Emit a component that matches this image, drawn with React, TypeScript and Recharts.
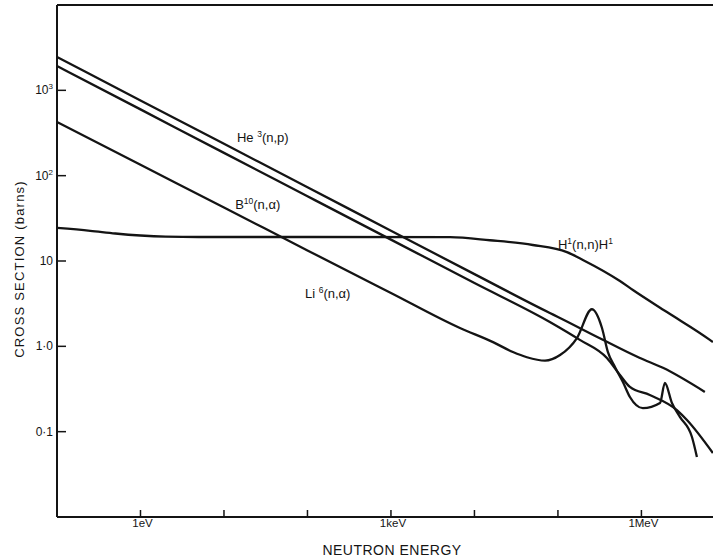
import React from "react";
import { LineChart, Line, XAxis, YAxis, ReferenceLine, ReferenceDot, Label } from "recharts";

const FONT = '"Liberation Sans", Arial, Helvetica, sans-serif';
const INK = "#141414";

// neutron energy in eV, cross section in barns
const he3Energy = [0.1, 1, 10, 100, 1000, 1e4, 8e4, 1e5, 3e5, 9.6e5, 1.81e6, 5.75e6];
const he3Sigma = [2460, 762, 236, 73.3, 22.6, 7.02, 2.46, 2.21, 1.28, 0.73, 0.56, 0.292];

const b10Energy = [0.1, 1, 10, 100, 1000, 1e4, 8e4, 1.83e5, 3.86e5, 5.53e5, 7.28e5, 1.26e6, 2.66e6, 3.51e6, 7.18e6];
const b10Sigma = [1930, 598, 185, 57.4, 17.8, 5.51, 1.93, 1.19, 0.73, 0.461, 0.334, 0.269, 0.179, 0.137, 0.0562];

const li6Energy = [
  0.1, 1, 10, 100, 1000, 6.7e3, 1.67e4, 2.89e4, 4.25e4, 7e4, 1.06e5, 1.69e5, 2.55e5,
  3.37e5, 3.97e5, 4.82e5, 6.0e5, 7.28e5, 1.04e6, 1.67e6, 1.91e6, 2.32e6, 2.89e6, 4.03e6, 4.62e6,
];
const li6Sigma = [
  425, 134, 42.4, 13.3, 4.22, 1.64, 1.12, 0.857, 0.745, 0.68, 0.79, 1.25, 2.72,
  1.64, 0.857, 0.573, 0.382, 0.255, 0.189, 0.217, 0.372, 0.217, 0.149, 0.0865, 0.0505,
];

const h1Energy = [0.1, 0.25, 0.5, 1, 2, 5, 100, 5100, 1.53e4, 5e4, 1.28e5, 1.99e5, 5.53e5, 7.91e5, 2.02e6, 6.6e6, 7.18e6];
const h1Sigma = [24.4, 22.6, 21.0, 19.9, 19.3, 19.1, 19.1, 19.0, 17.5, 15.4, 12.7, 10.3, 5.83, 4.57, 2.52, 1.19, 1.12];

const energyTicks = [1, 10, 100, 1000, 1e4, 1e5, 1e6];
const energyTickLabels = ["1eV", "", "", "1keV", "", "", "1MeV"];

const sigmaTicks = [0.1, 1, 10, 100, 1000];
const sigmaTickBase = ["0·1", "1·0", "10", "10", "10"];
const sigmaTickExp = ["", "", "", "2", "3"];

// where each curve name sits (energy, barns)
const curveLabelEnergy = [14.3, 13.6, 93.3, 1e5];
const curveLabelSigma = [248, 40.6, 3.68, 13.8];

const toRows = (es: number[], ss: number[]) => es.map((e, i) => ({ e, s: ss[i] }));

const he3Data = toRows(he3Energy, he3Sigma);
const b10Data = toRows(b10Energy, b10Sigma);
const li6Data = toRows(li6Energy, li6Sigma);
const h1Data = toRows(h1Energy, h1Sigma);

const XTick = (props: any) => {
  const { x, y, payload } = props;
  const label = energyTickLabels[energyTicks.indexOf(payload.value)];
  return (
    <g>
      <line x1={x} x2={x} y1={y} y2={y - 7} stroke={INK} strokeWidth={1.5} />
      <text x={x + 2} y={y + 10} textAnchor="middle" fontSize={11.5} fontFamily={FONT} fill={INK}>
        {label}
      </text>
    </g>
  );
};

const YTick = (props: any) => {
  const { x, y, payload } = props;
  const i = sigmaTicks.indexOf(payload.value);
  return (
    <g>
      <line x1={x} x2={x + 9} y1={y} y2={y} stroke={INK} strokeWidth={1.5} />
      <text x={x - 4} y={y + 4} textAnchor="end" fontSize={12} fontFamily={FONT} fill={INK}>
        <tspan>{sigmaTickBase[i]}</tspan>
        {sigmaTickExp[i] && (
          <tspan dy={-5} fontSize={8}>
            {sigmaTickExp[i]}
          </tspan>
        )}
      </text>
    </g>
  );
};

// name pieces: [text, raised?]
const curveNames: [string, boolean][][] = [
  [["He ", false], ["3", true], ["(n,p)", false]],
  [["B", false], ["10", true], ["(n,α)", false]],
  [["Li ", false], ["6", true], ["(n,α)", false]],
  [["H", false], ["1", true], ["(n,n)H", false], ["1", true]],
];

const nameLabel = (k: number) => (props: any) => {
  const vb = props.viewBox || {};
  let raised = false;
  return (
    <text x={vb.x} y={vb.y} fontSize={13} fontFamily={FONT} fill={INK}>
      {curveNames[k].map(([t, up], j) => {
        const dy = up && !raised ? -5 : !up && raised ? 5 : 0;
        raised = up;
        return (
          <tspan key={j} dy={dy} fontSize={up ? 8.5 : 13}>
            {t}
          </tspan>
        );
      })}
    </text>
  );
};

export default function App() {
  return (
    <div style={{ position: "absolute", left: 0, top: 0, width: 713, height: 559, background: "#fff" }}>
      <LineChart width={713} height={559} margin={{ top: 5, right: 0, bottom: 0, left: 0 }}>
        <XAxis
          dataKey="e"
          type="number"
          scale="log"
          domain={[0.1, 7.2e6]}
          allowDataOverflow
          ticks={energyTicks}
          interval={0}
          height={42}
          tickSize={0}
          tickMargin={0}
          tickLine={false}
          axisLine={{ stroke: INK, strokeWidth: 2 }}
          tick={<XTick />}
        >
          <Label
            content={(p: any) => (
              <text
                x={p.viewBox.x + 335}
                y={p.viewBox.y + 38}
                textAnchor="middle"
                fontSize={14}
                letterSpacing={0.5}
                fontFamily={FONT}
                fill={INK}
              >
                NEUTRON ENERGY
              </text>
            )}
          />
        </XAxis>
        <YAxis
          type="number"
          scale="log"
          domain={[0.01, 10000]}
          allowDataOverflow
          ticks={sigmaTicks}
          interval={0}
          width={57}
          tickSize={0}
          tickMargin={0}
          tickLine={false}
          axisLine={{ stroke: INK, strokeWidth: 2 }}
          tick={<YTick />}
        >
          <Label
            content={() => (
              <text
                x={19}
                y={269}
                transform="rotate(-90, 19, 269)"
                textAnchor="middle"
                dominantBaseline="central"
                fontSize={13}
                letterSpacing={1.2}
                fontFamily={FONT}
                fill={INK}
              >
                CROSS SECTION (barns)
              </text>
            )}
          />
        </YAxis>
        <ReferenceLine y={10000} stroke={INK} strokeWidth={2} />
        <Line data={he3Data} dataKey="s" type="monotone" stroke={INK} strokeWidth={2.3} dot={false} isAnimationActive={false} />
        <Line data={b10Data} dataKey="s" type="monotone" stroke={INK} strokeWidth={2.3} dot={false} isAnimationActive={false} />
        <Line data={li6Data} dataKey="s" type="monotone" stroke={INK} strokeWidth={2.3} dot={false} isAnimationActive={false} />
        <Line data={h1Data} dataKey="s" type="monotone" stroke={INK} strokeWidth={2.3} dot={false} isAnimationActive={false} />
        {curveLabelEnergy.map((e, k) => (
          <ReferenceDot key={k} x={e} y={curveLabelSigma[k]} r={0} fill="none" stroke="none" label={nameLabel(k)} />
        ))}
      </LineChart>
    </div>
  );
}
